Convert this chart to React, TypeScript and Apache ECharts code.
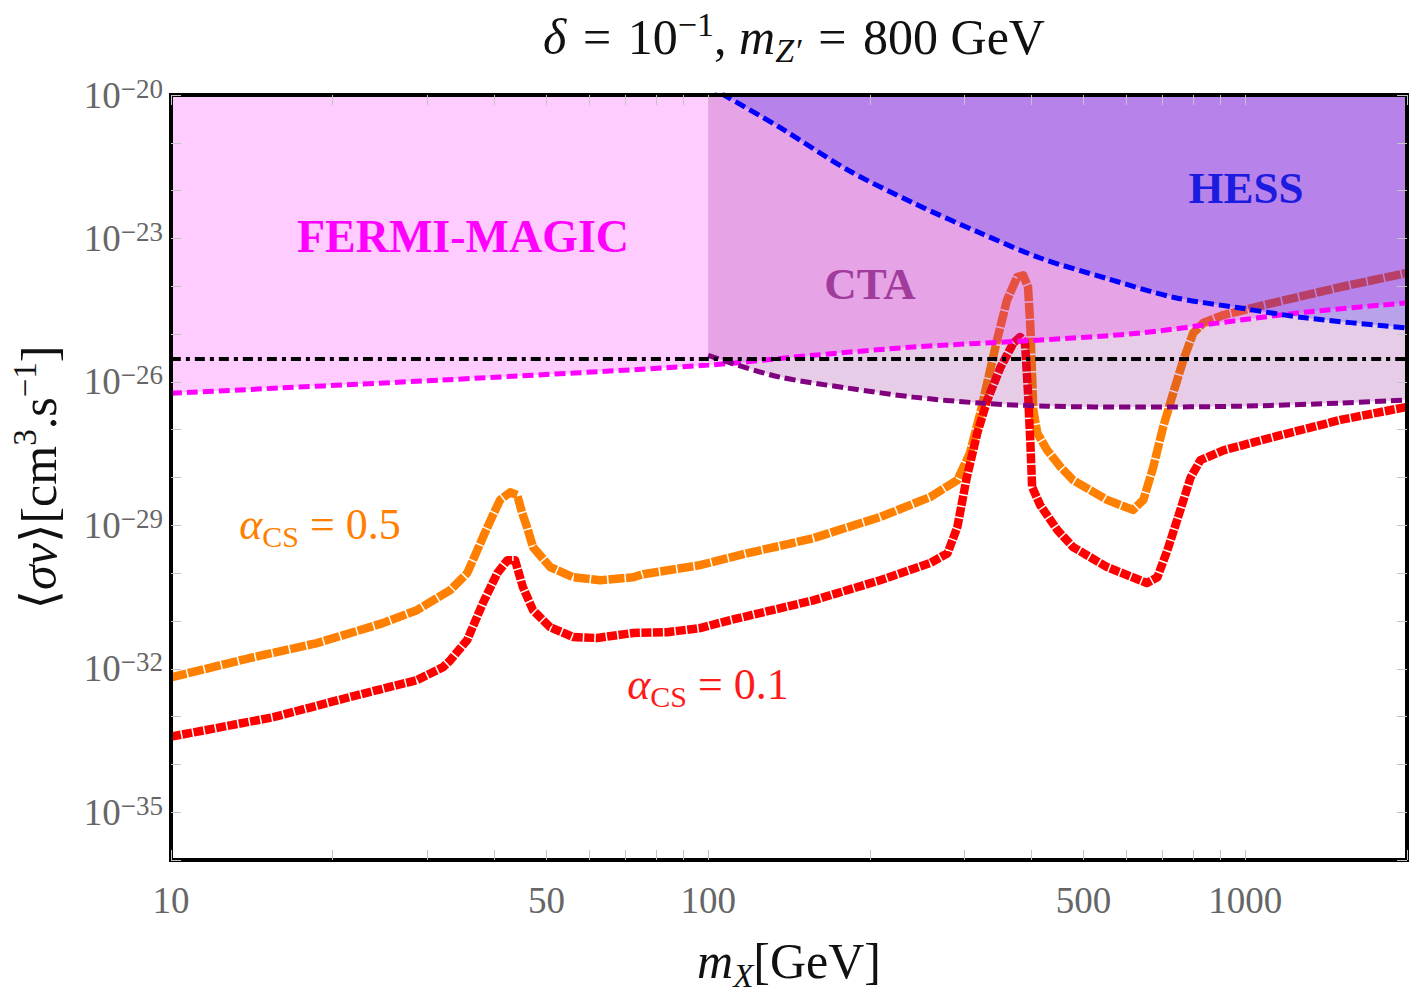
import React, { useEffect, useRef } from "react";
import * as echarts from "echarts";

const SERIF = '"Liberation Serif", "DejaVu Serif", "Times New Roman", serif';

// Axis ranges (both axes logarithmic)
const X_MIN = 10;
const X_MAX = 2000;
const Y_MIN = 1e-36;
const Y_MAX = 1e-20;

// Tick positions and labelled ticks
const X_TICKS = [10, 20, 30, 40, 50, 60, 70, 80, 90, 100, 200, 300, 400, 500, 600, 700, 800, 900, 1000, 2000];
const X_LABELS = [10, 50, 100, 500, 1000];
const Y_TICKS = [
  1e-36, 1e-35, 1e-34, 1e-33, 1e-32, 1e-31, 1e-30, 1e-29, 1e-28,
  1e-27, 1e-26, 1e-25, 1e-24, 1e-23, 1e-22, 1e-21, 1e-20,
];
const Y_LABELS = [1e-35, 1e-32, 1e-29, 1e-26, 1e-23, 1e-20];

// Thermal relic cross-section [cm^3 s^-1]
const THERMAL_RELIC = 3e-26;

// <σv> vs m_X for α_CS = 0.5
const SIGMA_ALPHA_05: [number, number][] = [
  [10, 6.6e-33], [14, 1.67e-32], [18.7, 3.44e-32], [24.8, 9.0e-32], [28.7, 1.68e-31],
  [33.1, 4.4e-31], [35.6, 1.0e-30], [38.1, 5.7e-30], [39.6, 1.5e-29], [41.0, 3.4e-29],
  [42.8, 4.9e-29], [44.1, 4.3e-29], [45.0, 1.9e-29], [46.0, 9.2e-30], [47.2, 3.5e-30],
  [50.8, 1.34e-30], [56.1, 8.2e-31], [63.0, 7.1e-31], [72.5, 8.2e-31], [75.7, 9.5e-31],
  [96.6, 1.47e-30], [118, 2.6e-30], [136, 3.7e-30], [157, 5.4e-30], [209, 1.49e-29],
  [259, 3.9e-29], [291, 8.8e-29], [307, 3.2e-28], [321, 2.2e-27], [335, 1.77e-26],
  [345, 7.5e-26], [360, 5.1e-25], [376, 1.56e-24], [386, 1.7e-24], [394, 9.6e-25],
  [398, 1.4e-25], [401, 1.26e-26], [403, 2.6e-27], [410, 8.5e-28], [428, 3.7e-28],
  [452, 1.7e-28], [478, 8.8e-29], [553, 3.4e-29], [618, 2.1e-29], [646, 3.4e-29],
  [674, 1.65e-28], [703, 1.13e-27], [734, 5.8e-27], [767, 2.9e-26], [800, 1.05e-25],
  [835, 1.7e-25], [910, 2.5e-25], [1127, 4.5e-25], [1503, 9.6e-25], [2000, 1.9e-24],
];

// <σv> vs m_X for α_CS = 0.1
const SIGMA_ALPHA_01: [number, number][] = [
  [10, 3.8e-34], [15.5, 9.7e-34], [21.5, 2.55e-33], [28.7, 5.8e-33], [32.1, 1.08e-32],
  [33.1, 1.5e-32], [35.6, 4.0e-32], [38.1, 2.4e-31], [40.5, 1.0e-30], [42.3, 1.87e-30],
  [43.7, 1.87e-30], [45.2, 5.1e-31], [47.2, 1.68e-31], [50.8, 7.4e-32], [56.1, 4.6e-32],
  [62.1, 4.4e-32], [72.5, 5.6e-32], [83.9, 5.8e-32], [96.6, 7.1e-32], [110, 1.04e-31],
  [157, 2.7e-31], [209, 7.1e-31], [259, 1.62e-30], [279, 2.6e-30], [291, 9.2e-30],
  [303, 1.0e-28], [317, 8.5e-28], [331, 4.2e-27], [350, 2.0e-26], [370, 6.5e-26],
  [381, 8.7e-26], [389, 6.5e-26], [394, 5.8e-27], [398, 5.3e-28], [401, 6.3e-29],
  [415, 2.65e-29], [447, 7.9e-30], [478, 3.5e-30], [553, 1.34e-30], [656, 6.2e-31],
  [686, 8.2e-31], [716, 3.0e-30], [757, 2.1e-29], [791, 1.0e-28], [825, 2.3e-28],
  [910, 3.7e-28], [1127, 7.0e-28], [1503, 1.6e-27], [2000, 3.0e-27],
];

// Indirect-detection limits
const FERMI_MAGIC: [number, number][] = [
  [10, 5.8e-27], [31.7, 1.09e-26], [100, 2.24e-26], [157, 3.6e-26], [241, 5.35e-26],
  [415, 7.5e-26], [637, 1.05e-25], [979, 1.96e-25], [1304, 2.9e-25], [2000, 4.5e-25],
];
const CTA: [number, number][] = [
  [100, 3.6e-26], [110, 2.5e-26], [136, 1.26e-26], [182, 7.4e-27], [241, 4.8e-27],
  [321, 3.6e-27], [428, 3.1e-27], [637, 2.97e-27], [979, 3.1e-27], [1503, 3.6e-27],
  [2000, 4.2e-27],
];
const HESS: [number, number][] = [
  [100, 1.6e-20], [107, 1.0e-20], [136, 2.1e-21], [182, 2.7e-22], [241, 5.5e-23],
  [321, 1.3e-23], [415, 3.9e-24], [553, 1.45e-24], [734, 5.9e-25], [979, 3.5e-25],
  [1304, 2.16e-25], [2000, 1.34e-25],
];

const TICK_GREY = "#666666";

const tickRich = {
  b: { fontFamily: SERIF, fontSize: 37, color: TICK_GREY, lineHeight: 40 },
  s: { fontFamily: SERIF, fontSize: 27, color: TICK_GREY, lineHeight: 27, verticalAlign: "top" },
};

const nameRich = {
  n: { fontFamily: SERIF, fontSize: 50, color: "#111", lineHeight: 62 },
  i: { fontFamily: SERIF, fontSize: 50, color: "#111", fontStyle: "italic", lineHeight: 62 },
  sup: { fontFamily: SERIF, fontSize: 33, color: "#111", lineHeight: 33, verticalAlign: "top" },
  sub: { fontFamily: SERIF, fontSize: 33, color: "#111", fontStyle: "italic", lineHeight: 33, verticalAlign: "bottom" },
};

const titleRich = {
  n: { fontFamily: SERIF, fontSize: 50, fontWeight: "normal", color: "#111", lineHeight: 60 },
  i: { fontFamily: SERIF, fontSize: 50, fontWeight: "normal", color: "#111", fontStyle: "italic", lineHeight: 60 },
  sup: { fontFamily: SERIF, fontSize: 34, fontWeight: "normal", color: "#111", lineHeight: 34, verticalAlign: "top" },
  sub: { fontFamily: SERIF, fontSize: 34, fontWeight: "normal", color: "#111", fontStyle: "italic", lineHeight: 34, verticalAlign: "bottom" },
};

function alphaRich(color: string) {
  return {
    a: { fontFamily: SERIF, fontSize: 44, fill: color, fontStyle: "italic", lineHeight: 54 },
    s: { fontFamily: SERIF, fontSize: 30, fill: color, lineHeight: 30, verticalAlign: "bottom" },
    n: { fontFamily: SERIF, fontSize: 44, fill: color, lineHeight: 54 },
  };
}

const frameLine = { show: true, onZero: false, lineStyle: { color: "#000", width: 4, cap: "square" } };
const tickStyle = { color: "#c4c4c4", width: 1 };

function yLabel(v: number) {
  const e = Math.round(Math.log10(v));
  return `{b|10}{s|−${Math.abs(e)}}`;
}

function buildOption() {
  const logX = { type: "log", min: X_MIN, max: X_MAX, logBase: 10, z: 10, splitLine: { show: false } };
  const logY = { type: "log", min: Y_MIN, max: Y_MAX, logBase: 10, z: 10, splitLine: { show: false } };

  const curve = (name: string, data: [number, number][], color: string, dash: number[]) => ({
    type: "line",
    name,
    data,
    symbol: "none",
    z: 2,
    lineStyle: { color, width: 8.5, type: dash, cap: "butt", join: "round" },
  });

  const fill = (name: string, data: [number, number][], color: string) => ({
    type: "line",
    name,
    data,
    symbol: "none",
    z: 3,
    silent: true,
    smooth: 0.3,
    lineStyle: { opacity: 0, width: 0 },
    areaStyle: { color, origin: "end", opacity: 1 },
  });

  const limit = (name: string, data: [number, number][], color: string, dash: number[], width: number) => ({
    type: "line",
    name,
    data,
    symbol: "none",
    z: 4,
    smooth: 0.3,
    lineStyle: { color, width, type: dash, cap: "butt" },
  });

  const SP = "\u2004";

  return {
    animation: false,
    backgroundColor: "#ffffff",
    title: {
      text: `{i|δ}{n|${SP}=${SP}10}{sup|−1}{n|, }{i|m}{sub|Z′}{n|${SP}=${SP}800 GeV}`,
      left: 789,
      top: 2,
      textAlign: "center",
      textStyle: { fontWeight: "normal", fontFamily: SERIF, rich: titleRich },
    },
    grid: { left: 171, right: 12, top: 95, bottom: 145, containLabel: false, outerBoundsMode: "none" },
    xAxis: [
      {
        ...logX,
        position: "bottom",
        name: "{i|m}{sub|X}{n|[GeV]}",
        nameLocation: "middle",
        nameGap: 70,
        nameTextStyle: { rich: nameRich },
        axisLine: frameLine,
        axisTick: { show: true, inside: true, length: 10, customValues: X_TICKS, lineStyle: tickStyle },
        axisLabel: {
          show: true,
          customValues: X_LABELS,
          margin: 22,
          fontFamily: SERIF,
          fontSize: 37,
          color: TICK_GREY,
          formatter: (v: number) => String(Math.round(v)),
        },
      },
      {
        ...logX,
        position: "top",
        axisLine: frameLine,
        axisTick: { show: true, inside: true, length: 10, customValues: X_TICKS, lineStyle: tickStyle },
        axisLabel: { show: false },
      },
    ],
    yAxis: [
      {
        ...logY,
        position: "left",
        name: "{n|⟨}{i|σv}{n|⟩[cm}{sup|3}{n|.s}{sup|−1}{n|]}",
        nameLocation: "middle",
        nameRotate: 90,
        nameGap: 101,
        nameTextStyle: { rich: nameRich },
        axisLine: frameLine,
        axisTick: { show: true, inside: true, length: 10, customValues: Y_TICKS, lineStyle: tickStyle },
        axisLabel: {
          show: true,
          customValues: Y_LABELS,
          margin: 8,
          formatter: yLabel,
          rich: tickRich,
        },
      },
      {
        ...logY,
        position: "right",
        axisLine: frameLine,
        axisTick: { show: true, inside: true, length: 10, customValues: Y_TICKS, lineStyle: tickStyle },
        axisLabel: { show: false },
      },
    ],
    series: [
      curve("α_CS = 0.5", SIGMA_ALPHA_05, "#ff8000", [16, 1.5]),
      curve("α_CS = 0.1", SIGMA_ALPHA_01, "#ff0000", [10, 1.5]),
      fill("FERMI-MAGIC region", FERMI_MAGIC, "rgba(255,0,255,0.2)"),
      fill("CTA region", CTA, "rgba(128,0,128,0.2)"),
      fill("HESS region", HESS, "rgba(0,0,255,0.2)"),
      limit("FERMI-MAGIC", FERMI_MAGIC, "#ff00ff", [11, 5], 5),
      limit("CTA", CTA, "#800080", [11, 5], 5),
      limit("HESS", HESS, "#0000ff", [11, 5], 5),
      limit("Thermal relic", [[X_MIN, THERMAL_RELIC], [X_MAX, THERMAL_RELIC]], "#000000", [10, 5, 4, 5], 4),
    ],
    graphic: [
      {
        type: "text",
        x: 463,
        y: 236,
        z: 20,
        style: { text: "FERMI-MAGIC", fill: "#ff00ff", fontFamily: SERIF, fontWeight: "bold", fontSize: 46, align: "center", verticalAlign: "middle" },
      },
      {
        type: "text",
        x: 870,
        y: 284,
        z: 20,
        style: { text: "CTA", fill: "#a23c9c", fontFamily: SERIF, fontWeight: "bold", fontSize: 45, align: "center", verticalAlign: "middle" },
      },
      {
        type: "text",
        x: 1246,
        y: 188,
        z: 20,
        style: { text: "HESS", fill: "#1c1ce0", fontFamily: SERIF, fontWeight: "bold", fontSize: 45, align: "center", verticalAlign: "middle" },
      },
      {
        type: "text",
        x: 320,
        y: 524,
        z: 20,
        style: { text: "{a|α}{s|CS}{n| = 0.5}", rich: alphaRich("#ff8000"), fill: "#ff8000", align: "center", verticalAlign: "middle" },
      },
      {
        type: "text",
        x: 708,
        y: 684,
        z: 20,
        style: { text: "{a|α}{s|CS}{n| = 0.1}", rich: alphaRich("#ff1a1a"), fill: "#ff1a1a", align: "center", verticalAlign: "middle" },
      },
    ],
  };
}

export default function App() {
  const ref = useRef<HTMLDivElement>(null);

  useEffect(() => {
    if (!ref.current) return;
    const chart = echarts.init(ref.current, null, { renderer: "svg" });
    chart.setOption(buildOption() as any);
    return () => chart.dispose();
  }, []);

  return (
    <div
      ref={ref}
      style={{ position: "fixed", left: 0, top: 0, width: 1419, height: 1005, background: "#fff" }}
    />
  );
}
